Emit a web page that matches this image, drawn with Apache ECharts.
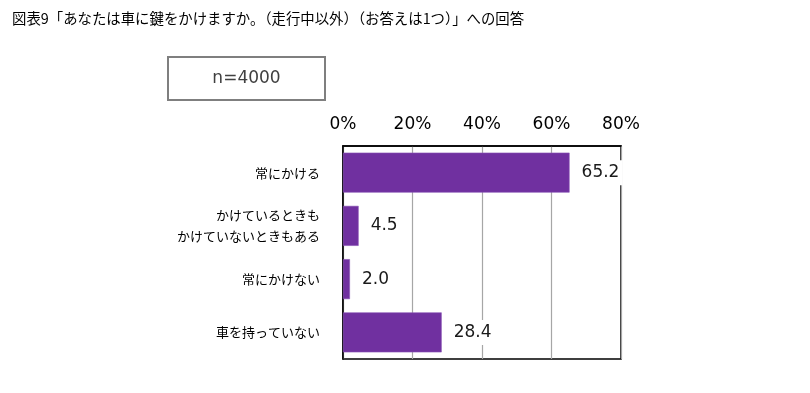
<!DOCTYPE html>
<html>
<head>
<meta charset="utf-8">
<script src="https://cdn.jsdelivr.net/npm/echarts@6/dist/echarts.min.js"></script>
<style>html,body{margin:0;padding:0;background:#fff;}#c{width:810px;height:393px;}</style>
</head>
<body>
<div id="c"></div>
<script>
const categories = ['常にかける', 'かけているときも\nかけていないときもある', '常にかけない', '車を持っていない'];
const values = [65.2, 4.5, 2.0, 28.4];
const axisTicks = [0, 20, 40, 60, 80];
const titleText = '図表9「あなたは車に鍵をかけますか。（走行中以外）（お答えは1つ）」への回答';
const sampleText = 'n=4000';

const chart = echarts.init(document.getElementById('c'));
chart.setOption({
  backgroundColor: '#fff',
  animation: false,
  title: {
    text: titleText, left: 7, top: 6,
    textStyle: {fontFamily: 'Noto Sans CJK JP', fontSize: 14.4, fontWeight: 'normal', color: '#000'}
  },
  graphic: [
    {type: 'rect', shape: {x: 168, y: 57, width: 157, height: 43},
     style: {fill: '#fff', stroke: '#7f7f7f', lineWidth: 2}},
    {type: 'text', x: 246.5, y: 78.5,
     style: {text: sampleText, fontFamily: 'DejaVu Sans', fontSize: 17, fill: '#404040', align: 'center', verticalAlign: 'middle'}}
  ],
  grid: {left: 343, right: 189, top: 146, bottom: 34, show: true, borderColor: '#000', borderWidth: 1.5, backgroundColor: 'transparent'},
  xAxis: {
    type: 'value', position: 'top', min: axisTicks[0], max: axisTicks[axisTicks.length - 1], interval: 20,
    axisLine: {show: true, lineStyle: {color: '#000', width: 1.5}},
    axisTick: {show: false},
    splitLine: {show: true, lineStyle: {color: '#a6a6a6', width: 1.2}},
    axisLabel: {formatter: '{value}%', fontFamily: 'DejaVu Sans', fontSize: 17, color: '#000', margin: 13}
  },
  yAxis: {
    type: 'category', data: categories, inverse: true,
    axisLine: {show: true, lineStyle: {color: '#000', width: 1.5}},
    axisTick: {show: false},
    axisLabel: {fontFamily: 'Noto Sans CJK JP', fontSize: 13, color: '#000', margin: 23, lineHeight: 21, align: 'right'}
  },
  series: [{
    type: 'bar', data: values, barWidth: 40,
    itemStyle: {color: '#7030a0', borderColor: '#8a55b5', borderWidth: 0.6},
    label: {
      show: true, position: 'right', distance: 9,
      formatter: p => p.value.toFixed(1),
      fontFamily: 'DejaVu Sans', fontSize: 17, color: '#1a1a1a',
      backgroundColor: '#fff', padding: [4, 3]
    }
  }]
});
</script>
</body>
</html>
